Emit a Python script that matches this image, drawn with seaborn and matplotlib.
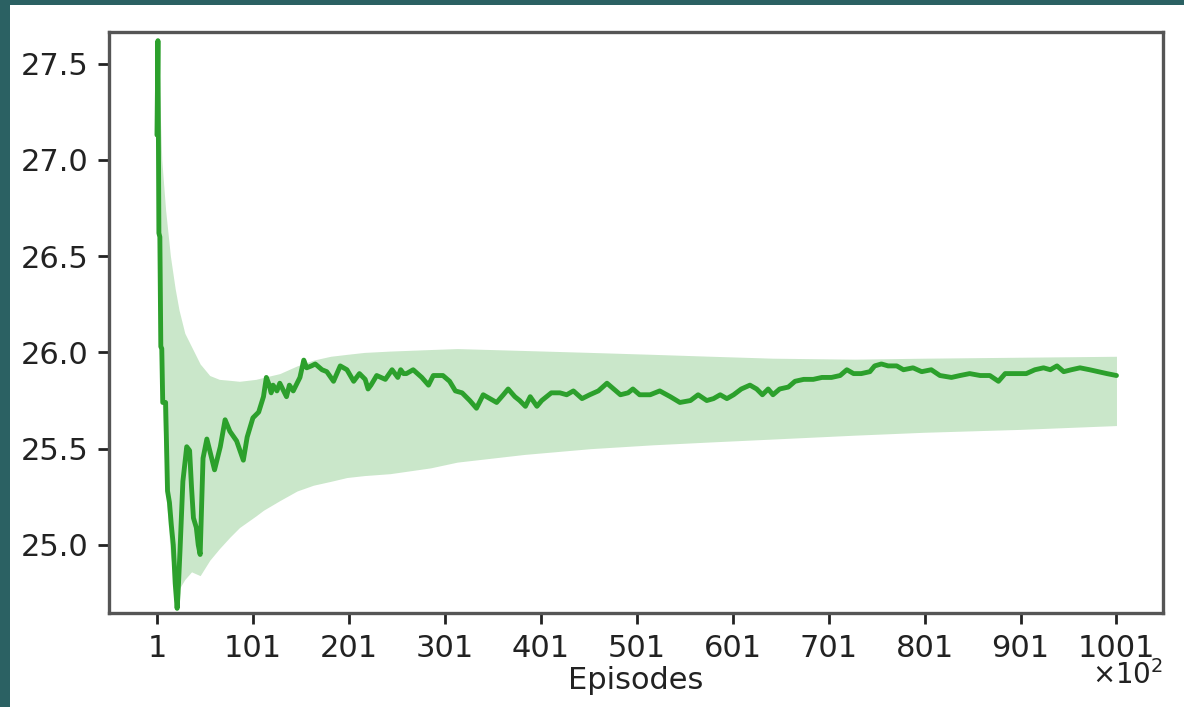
import matplotlib
matplotlib.use("Agg")
import matplotlib.pyplot as plt
from matplotlib.patches import Rectangle
import pandas as pd
import seaborn as sns

# Running mean reward (x in units of 100 episodes)
episode_idx = [1, 2, 3, 4, 5, 6, 7, 10, 12, 14, 16, 18, 20, 22, 23, 25, 28, 32, 35,
               37, 39, 42, 44, 46, 49, 53, 58, 61, 67, 72, 77, 84, 91, 95, 101, 107,
               112, 115, 118, 120, 122, 126, 129, 133, 136, 139, 143, 148, 150, 154,
               157, 162, 166, 173, 178, 185, 192, 199, 206, 212, 218, 221, 224, 230,
               239, 246, 252, 255, 258, 261, 268, 277, 284, 289, 299, 306, 312, 319,
               327, 334, 341, 348, 355, 362, 367, 374, 379, 385, 390, 397, 402, 407,
               412, 421, 428, 435, 444, 452, 461, 470, 477, 484, 492, 497, 504, 515,
               525, 536, 546, 557, 565, 574, 581, 588, 595, 602, 610, 619, 626, 632,
               638, 643, 650, 659, 666, 675, 685, 694, 704, 713, 720, 727, 735, 744,
               749, 756, 763, 772, 779, 789, 798, 808, 817, 829, 838, 848, 859, 869,
               878, 885, 897, 907, 916, 925, 932, 939, 946, 954, 963, 973, 982, 991,
               1001]
mean_reward = [27.13, 27.62, 26.62, 26.60, 26.03, 26.02, 25.74, 25.74, 25.28, 25.22,
               25.10, 25.00, 24.80, 24.67, 24.75, 24.97, 25.33, 25.51, 25.49,
               25.30, 25.14, 25.09, 25.00, 24.95, 25.45, 25.55, 25.45, 25.39, 25.51,
               25.65, 25.59, 25.54, 25.44, 25.56, 25.66, 25.69,
               25.77, 25.87, 25.83, 25.79, 25.83, 25.80, 25.84, 25.80, 25.77, 25.83,
               25.80, 25.85, 25.87, 25.96,
               25.92, 25.93, 25.94, 25.91, 25.90, 25.85, 25.93, 25.91, 25.85, 25.89,
               25.86, 25.81, 25.83, 25.88,
               25.86, 25.91, 25.87, 25.91, 25.89, 25.89, 25.91, 25.87, 25.83, 25.88,
               25.88, 25.85, 25.80, 25.79,
               25.75, 25.71, 25.78, 25.76, 25.74, 25.78, 25.81, 25.77, 25.75, 25.72,
               25.77, 25.72, 25.75, 25.77,
               25.79, 25.79, 25.78, 25.80, 25.76, 25.78, 25.80, 25.84, 25.81, 25.78,
               25.79, 25.81, 25.78, 25.78,
               25.80, 25.77, 25.74, 25.75, 25.78, 25.75, 25.76, 25.78, 25.76, 25.78,
               25.81, 25.83, 25.81, 25.78,
               25.81, 25.78, 25.81, 25.82, 25.85, 25.86, 25.86, 25.87, 25.87, 25.88,
               25.91, 25.89, 25.89, 25.90,
               25.93, 25.94, 25.93, 25.93, 25.91, 25.92, 25.90, 25.91, 25.88, 25.87,
               25.88, 25.89, 25.88, 25.88,
               25.85, 25.89, 25.89, 25.89, 25.91, 25.92, 25.91, 25.93, 25.90, 25.91,
               25.92, 25.91, 25.90, 25.89,
               25.88]

# Confidence band around the running mean
band_idx = [1, 3, 6, 10, 15, 20, 24, 30, 37, 46, 56, 66, 77, 87, 104, 112, 129, 147,
            164, 182, 199, 217, 244, 286, 314, 384, 453, 518, 579, 643, 728, 800, 900,
            1001]
band_upper = [27.62, 27.45, 27.00, 26.74, 26.50, 26.33, 26.22, 26.10, 26.03, 25.94,
              25.88, 25.86, 25.855, 25.85, 25.86, 25.87, 25.89, 25.93, 25.96, 25.98,
              25.99, 26.00, 26.007, 26.015, 26.02, 26.01, 26.00, 25.99, 25.98, 25.97,
              25.965, 25.97, 25.975, 25.98]
band_lower = [26.70, 26.30, 25.80, 25.30, 24.95, 24.78, 24.77, 24.82, 24.86, 24.84,
              24.92, 24.98, 25.04, 25.09, 25.15, 25.18, 25.23, 25.28, 25.31, 25.33,
              25.35, 25.36, 25.37, 25.40, 25.43, 25.47, 25.50, 25.52, 25.535, 25.55,
              25.57, 25.585, 25.60, 25.62]

tick_pos = [1, 101, 201, 301, 401, 501, 601, 701, 801, 901, 1001]
tick_labels = [str(t) for t in tick_pos]
ytick_vals = [25.0, 25.5, 26.0, 26.5, 27.0, 27.5]

sns.set_theme(style="ticks")
plt.rcParams["font.family"] = ["DejaVu Sans"]

GREEN = "#2ca02c"
FONT = 22

fig = plt.figure(figsize=(11.84, 7.07), dpi=100, facecolor="#2b6163")
W, H = 1184, 707
# white page area behind the axes
page = Rectangle((10 / W, 0), 1 - 10 / W, 1 - 5 / H, transform=fig.transFigure,
                 facecolor="white", edgecolor="none", zorder=-10)
fig.add_artist(page)

left, right, top, bottom = 109, 1163, 32, 613
ax = fig.add_axes([left / W, 1 - bottom / H, (right - left) / W, (bottom - top) / H])
ax.set_zorder(1)
ax.set_facecolor("white")

ax.fill_between(band_idx, band_lower, band_upper, color=GREEN, alpha=0.25,
                linewidth=0)
df = pd.DataFrame({"episode": episode_idx, "reward": mean_reward})
sns.lineplot(data=df, x="episode", y="reward", ax=ax, color=GREEN, linewidth=3.5,
             errorbar=None)

ax.set_xlim(-49, 1049.5)
ax.set_ylim(24.646, 27.665)
ax.set_xticks(tick_pos)
ax.set_xticklabels(tick_labels)
ax.set_yticks(ytick_vals)
ax.set_yticklabels([f"{v:.1f}" for v in ytick_vals])
ax.set_xlabel("Episodes", fontsize=FONT, color="#222222", labelpad=2)
ax.set_ylabel("")
ax.tick_params(axis="both", labelsize=FONT, colors="#222222", length=8, width=2,
               pad=7)

for s in ax.spines.values():
    s.set_visible(True)
    s.set_color("#555555")
    s.set_linewidth(2.4)

# scale factor for the episode axis, set under the last tick label
ax.text(1.0, -(660 - bottom) / (bottom - top), r"$\times10^{2}$",
        transform=ax.transAxes, ha="right", va="top", fontsize=FONT - 2,
        color="#222222")

fig.savefig("out.png", dpi=100, facecolor=fig.get_facecolor())
